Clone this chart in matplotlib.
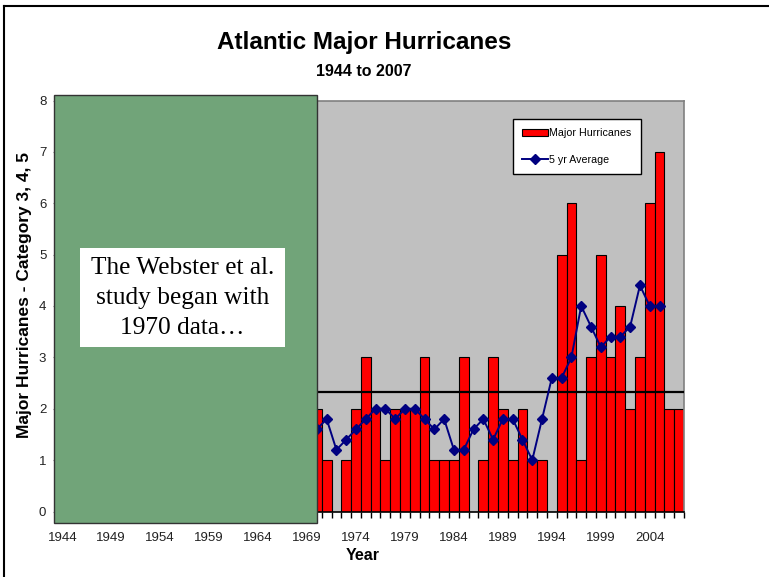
import matplotlib
matplotlib.use("Agg")
import matplotlib.pyplot as plt
from matplotlib.patches import Rectangle
from matplotlib.lines import Line2D

# categories on the x axis
years = list(range(1944, 2008))
label_years = list(range(1944, 2008, 5))

# visible bars (earlier years sit under the green panel)
bar_years = list(range(1970, 2008))
major = [2, 1, 0, 1, 2, 3, 2, 1, 2, 2, 2, 3, 1, 1, 1, 3, 0, 1, 3, 2,
         1, 2, 1, 1, 0, 5, 6, 1, 3, 5, 3, 4, 2, 3, 6, 7, 2, 2]

# centred 5 yr average, as plotted
avg_years = list(range(1970, 2006))
avg5 = [1.6, 1.8, 1.2, 1.4, 1.6, 1.8, 2.0, 2.0, 1.8, 2.0, 2.0, 1.8,
        1.6, 1.8, 1.2, 1.2, 1.6, 1.8, 1.4, 1.8, 1.8, 1.4, 1.0, 1.8,
        2.6, 2.6, 3.0, 4.0, 3.6, 3.2, 3.4, 3.4, 3.6, 4.4, 4.0, 4.0]

long_term_mean = 2.32

W, H = 769, 577
plt.rcParams['font.family'] = ['Liberation Sans', 'DejaVu Sans']

fig = plt.figure(figsize=(W / 100, H / 100), dpi=100)


def fx(x):
    return x / W


def fy(y):
    return 1 - y / H


ax_left, ax_right, ax_top, ax_bottom = 57.4, 684, 100.5, 511.5
ax = fig.add_axes([fx(ax_left), fy(ax_bottom), fx(ax_right - ax_left), (ax_bottom - ax_top) / H])
ax.set_facecolor('#C0C0C0')

idx = {y: i for i, y in enumerate(years)}
bx = [idx[y] for y in bar_years]
bars = ax.bar(bx, major, width=1.0, color='#FF0000', edgecolor='black', linewidth=0.8,
              zorder=2)
ax.axhline(long_term_mean, color='black', linewidth=1.6, zorder=3)
line, = ax.plot([idx[y] for y in avg_years], avg5, color='#000080', linewidth=1.4,
                marker='D', markersize=5, zorder=4)

ax.set_xlim(-0.5, len(years) - 0.5)
ax.set_ylim(0, 8)
ax.set_yticks(range(9))
ax.set_xticks([idx[y] for y in label_years])
ax.set_xticklabels([str(y) for y in label_years])
ax.set_xticks([i - 0.5 for i in range(len(years) + 1)], minor=True)
ax.tick_params(axis='x', which='major', length=0, pad=15, labelsize=9.5, labelcolor='#222222')
ax.tick_params(axis='x', which='minor', length=4, width=1, color='black', direction='out')
ax.tick_params(axis='y', length=3, color='#808080', labelsize=9.5, labelcolor='#222222', pad=5)

ax.spines['bottom'].set_color('black')
ax.spines['bottom'].set_linewidth(1.2)
for s in ['top', 'right']:
    ax.spines[s].set_color('#808080')
    ax.spines[s].set_linewidth(1.2)
ax.spines['left'].set_visible(False)

leg = ax.legend([bars, line], ['Major Hurricanes', '5 yr Average'],
                loc='upper left', bbox_to_anchor=(0.727, 0.955), fontsize=7.7,
                frameon=True, fancybox=False, edgecolor='black', facecolor='white',
                framealpha=1, handlelength=2.4, handleheight=0.55, handletextpad=0.15,
                labelspacing=1.55, borderpad=0.85, borderaxespad=0)
leg.get_frame().set_linewidth(1.0)
leg.set_zorder(6)

# green panel over the pre-1970 years
ax.add_patch(Rectangle((-0.85, -0.224), 26.85, 8.331, facecolor='#71A479',
                       edgecolor='#333333', linewidth=1.0, clip_on=False, zorder=5))

# white note box
fig.patches.append(Rectangle((fx(80), fy(347)), fx(205), (347 - 248) / H,
                             transform=fig.transFigure, facecolor='white',
                             edgecolor='none', zorder=10))
fig.text(fx(182.5), fy(298), 'The Webster et al.\nstudy began with\n1970 data\u2026',
         ha='center', va='center', family=['Liberation Serif', 'DejaVu Serif'],
         fontsize=18.3, linespacing=1.45, zorder=11)

fig.text(fx(364), fy(43), 'Atlantic Major Hurricanes', ha='center', va='center',
         fontsize=17.5, fontweight='bold')
fig.text(fx(364), fy(71), '1944 to 2007', ha='center', va='center',
         fontsize=11.5, fontweight='bold')
fig.text(fx(25), fy(295), 'Major Hurricanes - Category 3, 4, 5', ha='center', va='center',
         rotation=90, fontsize=12.5, fontweight='bold')
fig.text(fx(363), fy(556), 'Year', ha='center', va='center', fontsize=11.5, fontweight='bold')

# outer chart frame
fig.add_artist(Line2D([fx(3.5), fx(3.5)], [fy(5.5), 0], color='black', linewidth=1.5))
fig.add_artist(Line2D([fx(3.5), 1], [fy(5.5), fy(5.5)], color='black', linewidth=1.5))

fig.savefig('out.png', dpi=100)
